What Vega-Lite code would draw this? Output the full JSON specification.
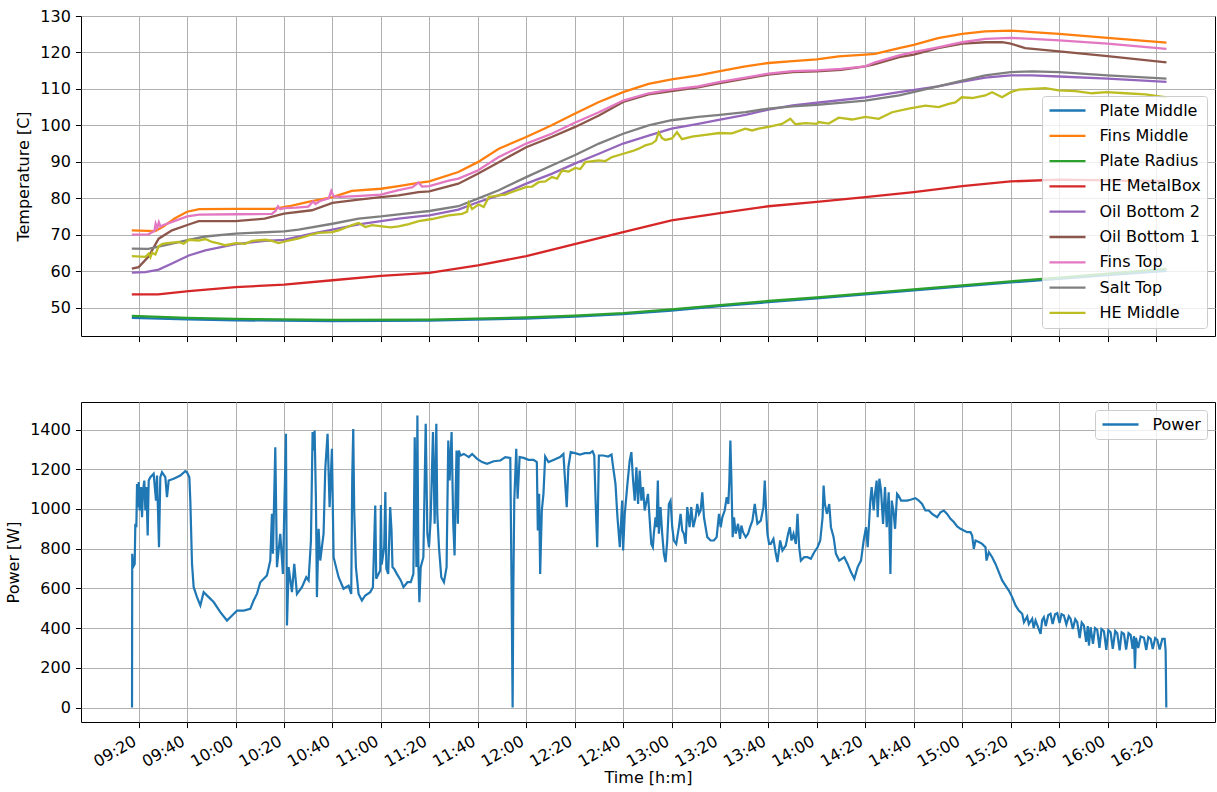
{
  "$schema": "https://vega.github.io/schema/vega-lite/v6.json",
  "padding": {"left": 5, "top": 7, "right": 0, "bottom": 0},
  "spacing": 66,
  "bounds": "flush",
  "config": {
    "font": "DejaVu Sans",
    "view": {"stroke": "#000000", "strokeWidth": 1},
    "axis": {
      "domain": false,
      "grid": true,
      "gridColor": "#b0b0b0",
      "gridWidth": 1,
      "tickColor": "#000000",
      "tickSize": 5.6,
      "tickWidth": 1,
      "labelFont": "DejaVu Sans",
      "labelFontSize": 16,
      "labelColor": "#000000",
      "labelPadding": 5,
      "labelOverlap": false,
      "labelFlush": false,
      "titleFont": "DejaVu Sans",
      "titleFontSize": 16,
      "titleFontWeight": "normal",
      "titleColor": "#000000",
      "titlePadding": 8
    },
    "legend": {
      "labelFont": "DejaVu Sans",
      "labelFontSize": 16,
      "labelColor": "#000000",
      "symbolType": "stroke",
      "symbolSize": 1296,
      "symbolStrokeWidth": 2.3,
      "labelOffset": 12.5,
      "padding": 6,
      "rowPadding": 8.3,
      "clipHeight": 17,
      "fillColor": "rgba(255,255,255,0.8)",
      "strokeColor": "#cccccc",
      "cornerRadius": 3,
      "offset": 8
    }
  },
  "resolve": {"scale": {"color": "independent", "y": "independent"}},
  "vconcat": [
    {
      "width": 1134,
      "height": 320,
      "data": {
        "format": {"parse": {"time": "date:'%H:%M:%S'"}},
        "values": [
          {"time": "09:17:10", "sensor": "Plate Middle", "temp": 47.2},
          {"time": "09:40:00", "sensor": "Plate Middle", "temp": 46.8},
          {"time": "10:00:00", "sensor": "Plate Middle", "temp": 46.5},
          {"time": "10:40:00", "sensor": "Plate Middle", "temp": 46.3},
          {"time": "11:20:00", "sensor": "Plate Middle", "temp": 46.4},
          {"time": "12:00:00", "sensor": "Plate Middle", "temp": 47.0},
          {"time": "12:20:00", "sensor": "Plate Middle", "temp": 47.5},
          {"time": "12:40:00", "sensor": "Plate Middle", "temp": 48.2},
          {"time": "13:00:00", "sensor": "Plate Middle", "temp": 49.2},
          {"time": "13:20:00", "sensor": "Plate Middle", "temp": 50.4},
          {"time": "13:40:00", "sensor": "Plate Middle", "temp": 51.5},
          {"time": "14:00:00", "sensor": "Plate Middle", "temp": 52.5},
          {"time": "14:20:00", "sensor": "Plate Middle", "temp": 53.6},
          {"time": "14:40:00", "sensor": "Plate Middle", "temp": 54.7},
          {"time": "15:00:00", "sensor": "Plate Middle", "temp": 55.8},
          {"time": "15:20:00", "sensor": "Plate Middle", "temp": 56.9},
          {"time": "15:40:00", "sensor": "Plate Middle", "temp": 57.9},
          {"time": "16:00:00", "sensor": "Plate Middle", "temp": 58.9},
          {"time": "16:24:20", "sensor": "Plate Middle", "temp": 60.1},

          {"time": "09:17:10", "sensor": "Fins Middle", "temp": 71.2},
          {"time": "09:26:50", "sensor": "Fins Middle", "temp": 71.0},
          {"time": "09:30:00", "sensor": "Fins Middle", "temp": 72.2},
          {"time": "09:35:00", "sensor": "Fins Middle", "temp": 74.5},
          {"time": "09:40:00", "sensor": "Fins Middle", "temp": 76.3},
          {"time": "09:45:00", "sensor": "Fins Middle", "temp": 77.0},
          {"time": "10:00:00", "sensor": "Fins Middle", "temp": 77.1},
          {"time": "10:16:00", "sensor": "Fins Middle", "temp": 77.1},
          {"time": "10:22:00", "sensor": "Fins Middle", "temp": 77.8},
          {"time": "10:30:00", "sensor": "Fins Middle", "temp": 79.0},
          {"time": "10:40:00", "sensor": "Fins Middle", "temp": 80.3},
          {"time": "10:48:00", "sensor": "Fins Middle", "temp": 82.0},
          {"time": "11:00:00", "sensor": "Fins Middle", "temp": 82.6},
          {"time": "11:07:20", "sensor": "Fins Middle", "temp": 83.3},
          {"time": "11:15:30", "sensor": "Fins Middle", "temp": 84.2},
          {"time": "11:20:00", "sensor": "Fins Middle", "temp": 84.6},
          {"time": "11:32:00", "sensor": "Fins Middle", "temp": 87.2},
          {"time": "11:40:00", "sensor": "Fins Middle", "temp": 89.9},
          {"time": "11:48:40", "sensor": "Fins Middle", "temp": 93.6},
          {"time": "12:00:00", "sensor": "Fins Middle", "temp": 96.8},
          {"time": "12:10:30", "sensor": "Fins Middle", "temp": 100.0},
          {"time": "12:20:00", "sensor": "Fins Middle", "temp": 103.2},
          {"time": "12:30:00", "sensor": "Fins Middle", "temp": 106.4},
          {"time": "12:40:00", "sensor": "Fins Middle", "temp": 109.1},
          {"time": "12:50:30", "sensor": "Fins Middle", "temp": 111.4},
          {"time": "13:00:00", "sensor": "Fins Middle", "temp": 112.6},
          {"time": "13:11:00", "sensor": "Fins Middle", "temp": 113.7},
          {"time": "13:20:00", "sensor": "Fins Middle", "temp": 114.9},
          {"time": "13:30:30", "sensor": "Fins Middle", "temp": 116.2},
          {"time": "13:40:00", "sensor": "Fins Middle", "temp": 117.1},
          {"time": "13:50:00", "sensor": "Fins Middle", "temp": 117.6},
          {"time": "14:00:00", "sensor": "Fins Middle", "temp": 118.1},
          {"time": "14:09:00", "sensor": "Fins Middle", "temp": 118.9},
          {"time": "14:20:00", "sensor": "Fins Middle", "temp": 119.4},
          {"time": "14:24:00", "sensor": "Fins Middle", "temp": 119.6},
          {"time": "14:34:00", "sensor": "Fins Middle", "temp": 121.2},
          {"time": "14:40:00", "sensor": "Fins Middle", "temp": 122.1},
          {"time": "14:50:00", "sensor": "Fins Middle", "temp": 123.9},
          {"time": "15:00:00", "sensor": "Fins Middle", "temp": 125.1},
          {"time": "15:09:30", "sensor": "Fins Middle", "temp": 125.8},
          {"time": "15:20:00", "sensor": "Fins Middle", "temp": 126.0},
          {"time": "15:28:50", "sensor": "Fins Middle", "temp": 125.6},
          {"time": "15:40:00", "sensor": "Fins Middle", "temp": 125.1},
          {"time": "16:00:00", "sensor": "Fins Middle", "temp": 124.0},
          {"time": "16:24:20", "sensor": "Fins Middle", "temp": 122.7},

          {"time": "09:17:10", "sensor": "Plate Radius", "temp": 47.7},
          {"time": "09:40:00", "sensor": "Plate Radius", "temp": 47.2},
          {"time": "10:00:00", "sensor": "Plate Radius", "temp": 46.9},
          {"time": "10:40:00", "sensor": "Plate Radius", "temp": 46.6},
          {"time": "11:20:00", "sensor": "Plate Radius", "temp": 46.7},
          {"time": "12:00:00", "sensor": "Plate Radius", "temp": 47.3},
          {"time": "12:20:00", "sensor": "Plate Radius", "temp": 47.8},
          {"time": "12:40:00", "sensor": "Plate Radius", "temp": 48.5},
          {"time": "13:00:00", "sensor": "Plate Radius", "temp": 49.5},
          {"time": "13:20:00", "sensor": "Plate Radius", "temp": 50.7},
          {"time": "13:40:00", "sensor": "Plate Radius", "temp": 51.8},
          {"time": "14:00:00", "sensor": "Plate Radius", "temp": 52.8},
          {"time": "14:20:00", "sensor": "Plate Radius", "temp": 53.9},
          {"time": "14:40:00", "sensor": "Plate Radius", "temp": 55.0},
          {"time": "15:00:00", "sensor": "Plate Radius", "temp": 56.1},
          {"time": "15:20:00", "sensor": "Plate Radius", "temp": 57.2},
          {"time": "15:40:00", "sensor": "Plate Radius", "temp": 58.2},
          {"time": "16:00:00", "sensor": "Plate Radius", "temp": 59.3},
          {"time": "16:24:20", "sensor": "Plate Radius", "temp": 60.6},

          {"time": "09:17:10", "sensor": "HE MetalBox", "temp": 53.6},
          {"time": "09:28:00", "sensor": "HE MetalBox", "temp": 53.6},
          {"time": "09:40:40", "sensor": "HE MetalBox", "temp": 54.5},
          {"time": "10:00:00", "sensor": "HE MetalBox", "temp": 55.6},
          {"time": "10:20:00", "sensor": "HE MetalBox", "temp": 56.3},
          {"time": "10:40:00", "sensor": "HE MetalBox", "temp": 57.5},
          {"time": "11:00:00", "sensor": "HE MetalBox", "temp": 58.7},
          {"time": "11:20:00", "sensor": "HE MetalBox", "temp": 59.5},
          {"time": "11:40:00", "sensor": "HE MetalBox", "temp": 61.6},
          {"time": "12:00:00", "sensor": "HE MetalBox", "temp": 64.1},
          {"time": "12:20:00", "sensor": "HE MetalBox", "temp": 67.4},
          {"time": "12:40:00", "sensor": "HE MetalBox", "temp": 70.7},
          {"time": "13:00:00", "sensor": "HE MetalBox", "temp": 73.9},
          {"time": "13:20:00", "sensor": "HE MetalBox", "temp": 75.9},
          {"time": "13:40:00", "sensor": "HE MetalBox", "temp": 77.8},
          {"time": "14:00:00", "sensor": "HE MetalBox", "temp": 79.0},
          {"time": "14:20:00", "sensor": "HE MetalBox", "temp": 80.3},
          {"time": "14:40:00", "sensor": "HE MetalBox", "temp": 81.7},
          {"time": "15:00:00", "sensor": "HE MetalBox", "temp": 83.3},
          {"time": "15:20:00", "sensor": "HE MetalBox", "temp": 84.6},
          {"time": "15:40:00", "sensor": "HE MetalBox", "temp": 85.1},
          {"time": "16:00:00", "sensor": "HE MetalBox", "temp": 84.9},
          {"time": "16:24:20", "sensor": "HE MetalBox", "temp": 84.7},

          {"time": "09:17:10", "sensor": "Oil Bottom 2", "temp": 59.6},
          {"time": "09:22:45", "sensor": "Oil Bottom 2", "temp": 59.7},
          {"time": "09:28:15", "sensor": "Oil Bottom 2", "temp": 60.4},
          {"time": "09:33:45", "sensor": "Oil Bottom 2", "temp": 62.1},
          {"time": "09:40:40", "sensor": "Oil Bottom 2", "temp": 64.3},
          {"time": "09:47:30", "sensor": "Oil Bottom 2", "temp": 65.7},
          {"time": "10:00:00", "sensor": "Oil Bottom 2", "temp": 67.4},
          {"time": "10:12:00", "sensor": "Oil Bottom 2", "temp": 68.3},
          {"time": "10:20:00", "sensor": "Oil Bottom 2", "temp": 68.6},
          {"time": "10:31:30", "sensor": "Oil Bottom 2", "temp": 70.3},
          {"time": "10:40:00", "sensor": "Oil Bottom 2", "temp": 71.4},
          {"time": "10:50:50", "sensor": "Oil Bottom 2", "temp": 72.8},
          {"time": "11:00:00", "sensor": "Oil Bottom 2", "temp": 73.7},
          {"time": "11:07:20", "sensor": "Oil Bottom 2", "temp": 74.4},
          {"time": "11:15:30", "sensor": "Oil Bottom 2", "temp": 75.0},
          {"time": "11:20:00", "sensor": "Oil Bottom 2", "temp": 75.3},
          {"time": "11:32:00", "sensor": "Oil Bottom 2", "temp": 76.9},
          {"time": "11:40:00", "sensor": "Oil Bottom 2", "temp": 78.9},
          {"time": "11:48:40", "sensor": "Oil Bottom 2", "temp": 80.8},
          {"time": "12:00:00", "sensor": "Oil Bottom 2", "temp": 84.0},
          {"time": "12:10:30", "sensor": "Oil Bottom 2", "temp": 86.7},
          {"time": "12:20:00", "sensor": "Oil Bottom 2", "temp": 89.5},
          {"time": "12:30:00", "sensor": "Oil Bottom 2", "temp": 92.2},
          {"time": "12:40:00", "sensor": "Oil Bottom 2", "temp": 95.0},
          {"time": "12:50:30", "sensor": "Oil Bottom 2", "temp": 97.2},
          {"time": "13:00:00", "sensor": "Oil Bottom 2", "temp": 99.1},
          {"time": "13:11:00", "sensor": "Oil Bottom 2", "temp": 100.4},
          {"time": "13:20:00", "sensor": "Oil Bottom 2", "temp": 101.6},
          {"time": "13:30:30", "sensor": "Oil Bottom 2", "temp": 102.9},
          {"time": "13:40:00", "sensor": "Oil Bottom 2", "temp": 104.3},
          {"time": "13:50:00", "sensor": "Oil Bottom 2", "temp": 105.5},
          {"time": "14:00:00", "sensor": "Oil Bottom 2", "temp": 106.2},
          {"time": "14:20:00", "sensor": "Oil Bottom 2", "temp": 107.7},
          {"time": "14:34:00", "sensor": "Oil Bottom 2", "temp": 109.1},
          {"time": "14:50:00", "sensor": "Oil Bottom 2", "temp": 110.7},
          {"time": "15:00:00", "sensor": "Oil Bottom 2", "temp": 112.0},
          {"time": "15:09:30", "sensor": "Oil Bottom 2", "temp": 113.1},
          {"time": "15:20:00", "sensor": "Oil Bottom 2", "temp": 113.7},
          {"time": "15:29:00", "sensor": "Oil Bottom 2", "temp": 113.7},
          {"time": "15:40:00", "sensor": "Oil Bottom 2", "temp": 113.4},
          {"time": "16:00:00", "sensor": "Oil Bottom 2", "temp": 112.8},
          {"time": "16:24:20", "sensor": "Oil Bottom 2", "temp": 111.9},

          {"time": "09:17:10", "sensor": "Oil Bottom 1", "temp": 60.7},
          {"time": "09:20:00", "sensor": "Oil Bottom 1", "temp": 61.1},
          {"time": "09:24:00", "sensor": "Oil Bottom 1", "temp": 63.9},
          {"time": "09:28:15", "sensor": "Oil Bottom 1", "temp": 68.9},
          {"time": "09:33:45", "sensor": "Oil Bottom 1", "temp": 71.2},
          {"time": "09:40:40", "sensor": "Oil Bottom 1", "temp": 72.8},
          {"time": "09:44:45", "sensor": "Oil Bottom 1", "temp": 73.7},
          {"time": "10:00:00", "sensor": "Oil Bottom 1", "temp": 73.7},
          {"time": "10:12:00", "sensor": "Oil Bottom 1", "temp": 74.4},
          {"time": "10:20:00", "sensor": "Oil Bottom 1", "temp": 75.8},
          {"time": "10:31:30", "sensor": "Oil Bottom 1", "temp": 76.7},
          {"time": "10:40:00", "sensor": "Oil Bottom 1", "temp": 78.7},
          {"time": "10:50:50", "sensor": "Oil Bottom 1", "temp": 79.6},
          {"time": "11:00:00", "sensor": "Oil Bottom 1", "temp": 80.3},
          {"time": "11:07:20", "sensor": "Oil Bottom 1", "temp": 80.8},
          {"time": "11:15:30", "sensor": "Oil Bottom 1", "temp": 81.7},
          {"time": "11:20:00", "sensor": "Oil Bottom 1", "temp": 81.9},
          {"time": "11:32:00", "sensor": "Oil Bottom 1", "temp": 84.0},
          {"time": "11:40:00", "sensor": "Oil Bottom 1", "temp": 86.7},
          {"time": "11:48:40", "sensor": "Oil Bottom 1", "temp": 89.9},
          {"time": "12:00:00", "sensor": "Oil Bottom 1", "temp": 94.0},
          {"time": "12:10:30", "sensor": "Oil Bottom 1", "temp": 96.8},
          {"time": "12:20:00", "sensor": "Oil Bottom 1", "temp": 99.5},
          {"time": "12:30:00", "sensor": "Oil Bottom 1", "temp": 102.7},
          {"time": "12:40:00", "sensor": "Oil Bottom 1", "temp": 106.4},
          {"time": "12:50:30", "sensor": "Oil Bottom 1", "temp": 108.5},
          {"time": "13:00:00", "sensor": "Oil Bottom 1", "temp": 109.4},
          {"time": "13:11:00", "sensor": "Oil Bottom 1", "temp": 110.4},
          {"time": "13:20:00", "sensor": "Oil Bottom 1", "temp": 111.6},
          {"time": "13:30:30", "sensor": "Oil Bottom 1", "temp": 112.8},
          {"time": "13:40:00", "sensor": "Oil Bottom 1", "temp": 113.9},
          {"time": "13:50:00", "sensor": "Oil Bottom 1", "temp": 114.6},
          {"time": "14:00:00", "sensor": "Oil Bottom 1", "temp": 114.8},
          {"time": "14:10:00", "sensor": "Oil Bottom 1", "temp": 115.2},
          {"time": "14:20:00", "sensor": "Oil Bottom 1", "temp": 116.2},
          {"time": "14:24:00", "sensor": "Oil Bottom 1", "temp": 116.8},
          {"time": "14:34:00", "sensor": "Oil Bottom 1", "temp": 118.7},
          {"time": "14:40:00", "sensor": "Oil Bottom 1", "temp": 119.4},
          {"time": "14:50:00", "sensor": "Oil Bottom 1", "temp": 121.2},
          {"time": "15:00:00", "sensor": "Oil Bottom 1", "temp": 122.4},
          {"time": "15:09:30", "sensor": "Oil Bottom 1", "temp": 122.8},
          {"time": "15:16:30", "sensor": "Oil Bottom 1", "temp": 122.8},
          {"time": "15:20:00", "sensor": "Oil Bottom 1", "temp": 122.4},
          {"time": "15:26:00", "sensor": "Oil Bottom 1", "temp": 121.2},
          {"time": "15:40:00", "sensor": "Oil Bottom 1", "temp": 120.3},
          {"time": "16:00:00", "sensor": "Oil Bottom 1", "temp": 119.0},
          {"time": "16:24:20", "sensor": "Oil Bottom 1", "temp": 117.3},

          {"time": "09:17:10", "sensor": "Fins Top", "temp": 70.0},
          {"time": "09:24:00", "sensor": "Fins Top", "temp": 70.1},
          {"time": "09:26:30", "sensor": "Fins Top", "temp": 71.0},
          {"time": "09:27:00", "sensor": "Fins Top", "temp": 73.0},
          {"time": "09:27:40", "sensor": "Fins Top", "temp": 71.8},
          {"time": "09:28:20", "sensor": "Fins Top", "temp": 73.4},
          {"time": "09:29:00", "sensor": "Fins Top", "temp": 72.2},
          {"time": "09:30:00", "sensor": "Fins Top", "temp": 72.6},
          {"time": "09:35:00", "sensor": "Fins Top", "temp": 73.8},
          {"time": "09:40:00", "sensor": "Fins Top", "temp": 75.0},
          {"time": "09:45:00", "sensor": "Fins Top", "temp": 75.5},
          {"time": "10:00:00", "sensor": "Fins Top", "temp": 75.6},
          {"time": "10:15:00", "sensor": "Fins Top", "temp": 75.7},
          {"time": "10:16:30", "sensor": "Fins Top", "temp": 76.5},
          {"time": "10:17:30", "sensor": "Fins Top", "temp": 77.8},
          {"time": "10:18:30", "sensor": "Fins Top", "temp": 77.0},
          {"time": "10:20:00", "sensor": "Fins Top", "temp": 77.3},
          {"time": "10:25:00", "sensor": "Fins Top", "temp": 77.4},
          {"time": "10:30:00", "sensor": "Fins Top", "temp": 77.7},
          {"time": "10:32:00", "sensor": "Fins Top", "temp": 79.1},
          {"time": "10:33:00", "sensor": "Fins Top", "temp": 78.4},
          {"time": "10:35:00", "sensor": "Fins Top", "temp": 79.3},
          {"time": "10:38:30", "sensor": "Fins Top", "temp": 80.0},
          {"time": "10:39:30", "sensor": "Fins Top", "temp": 82.0},
          {"time": "10:40:30", "sensor": "Fins Top", "temp": 80.5},
          {"time": "10:43:00", "sensor": "Fins Top", "temp": 80.4},
          {"time": "10:50:00", "sensor": "Fins Top", "temp": 80.6},
          {"time": "11:00:00", "sensor": "Fins Top", "temp": 81.0},
          {"time": "11:07:20", "sensor": "Fins Top", "temp": 82.2},
          {"time": "11:13:00", "sensor": "Fins Top", "temp": 83.0},
          {"time": "11:15:30", "sensor": "Fins Top", "temp": 84.3},
          {"time": "11:17:00", "sensor": "Fins Top", "temp": 83.2},
          {"time": "11:20:00", "sensor": "Fins Top", "temp": 83.3},
          {"time": "11:28:00", "sensor": "Fins Top", "temp": 84.8},
          {"time": "11:32:00", "sensor": "Fins Top", "temp": 85.4},
          {"time": "11:40:00", "sensor": "Fins Top", "temp": 87.6},
          {"time": "11:48:40", "sensor": "Fins Top", "temp": 91.3},
          {"time": "12:00:00", "sensor": "Fins Top", "temp": 95.0},
          {"time": "12:10:30", "sensor": "Fins Top", "temp": 97.7},
          {"time": "12:20:00", "sensor": "Fins Top", "temp": 100.7},
          {"time": "12:30:00", "sensor": "Fins Top", "temp": 103.6},
          {"time": "12:40:00", "sensor": "Fins Top", "temp": 106.8},
          {"time": "12:50:30", "sensor": "Fins Top", "temp": 108.8},
          {"time": "13:00:00", "sensor": "Fins Top", "temp": 109.8},
          {"time": "13:11:00", "sensor": "Fins Top", "temp": 110.7},
          {"time": "13:20:00", "sensor": "Fins Top", "temp": 111.9},
          {"time": "13:30:30", "sensor": "Fins Top", "temp": 113.1},
          {"time": "13:40:00", "sensor": "Fins Top", "temp": 114.2},
          {"time": "13:50:00", "sensor": "Fins Top", "temp": 114.9},
          {"time": "14:00:00", "sensor": "Fins Top", "temp": 115.1},
          {"time": "14:10:00", "sensor": "Fins Top", "temp": 115.5},
          {"time": "14:20:00", "sensor": "Fins Top", "temp": 116.2},
          {"time": "14:24:00", "sensor": "Fins Top", "temp": 117.3},
          {"time": "14:34:00", "sensor": "Fins Top", "temp": 119.2},
          {"time": "14:40:00", "sensor": "Fins Top", "temp": 120.1},
          {"time": "14:50:00", "sensor": "Fins Top", "temp": 121.4},
          {"time": "15:00:00", "sensor": "Fins Top", "temp": 122.8},
          {"time": "15:09:30", "sensor": "Fins Top", "temp": 123.7},
          {"time": "15:20:00", "sensor": "Fins Top", "temp": 124.0},
          {"time": "15:28:50", "sensor": "Fins Top", "temp": 123.7},
          {"time": "15:40:00", "sensor": "Fins Top", "temp": 123.3},
          {"time": "16:00:00", "sensor": "Fins Top", "temp": 122.4},
          {"time": "16:24:20", "sensor": "Fins Top", "temp": 121.0},

          {"time": "09:17:10", "sensor": "Salt Top", "temp": 66.2},
          {"time": "09:24:00", "sensor": "Salt Top", "temp": 66.1},
          {"time": "09:31:00", "sensor": "Salt Top", "temp": 67.1},
          {"time": "09:40:40", "sensor": "Salt Top", "temp": 68.6},
          {"time": "09:47:30", "sensor": "Salt Top", "temp": 69.5},
          {"time": "10:00:00", "sensor": "Salt Top", "temp": 70.3},
          {"time": "10:20:00", "sensor": "Salt Top", "temp": 70.9},
          {"time": "10:26:00", "sensor": "Salt Top", "temp": 71.4},
          {"time": "10:40:00", "sensor": "Salt Top", "temp": 73.0},
          {"time": "10:50:50", "sensor": "Salt Top", "temp": 74.4},
          {"time": "11:00:00", "sensor": "Salt Top", "temp": 75.0},
          {"time": "11:07:20", "sensor": "Salt Top", "temp": 75.6},
          {"time": "11:20:00", "sensor": "Salt Top", "temp": 76.5},
          {"time": "11:32:00", "sensor": "Salt Top", "temp": 77.8},
          {"time": "11:40:00", "sensor": "Salt Top", "temp": 79.9},
          {"time": "11:48:40", "sensor": "Salt Top", "temp": 82.2},
          {"time": "12:00:00", "sensor": "Salt Top", "temp": 85.8},
          {"time": "12:10:30", "sensor": "Salt Top", "temp": 89.0},
          {"time": "12:20:00", "sensor": "Salt Top", "temp": 91.8},
          {"time": "12:30:00", "sensor": "Salt Top", "temp": 95.0},
          {"time": "12:40:00", "sensor": "Salt Top", "temp": 97.7},
          {"time": "12:50:30", "sensor": "Salt Top", "temp": 100.0},
          {"time": "13:00:00", "sensor": "Salt Top", "temp": 101.4},
          {"time": "13:11:00", "sensor": "Salt Top", "temp": 102.3},
          {"time": "13:20:00", "sensor": "Salt Top", "temp": 102.9},
          {"time": "13:30:30", "sensor": "Salt Top", "temp": 103.6},
          {"time": "13:40:00", "sensor": "Salt Top", "temp": 104.6},
          {"time": "13:50:00", "sensor": "Salt Top", "temp": 105.2},
          {"time": "14:00:00", "sensor": "Salt Top", "temp": 105.6},
          {"time": "14:20:00", "sensor": "Salt Top", "temp": 106.8},
          {"time": "14:34:00", "sensor": "Salt Top", "temp": 108.2},
          {"time": "14:50:00", "sensor": "Salt Top", "temp": 110.7},
          {"time": "15:00:00", "sensor": "Salt Top", "temp": 112.3},
          {"time": "15:09:30", "sensor": "Salt Top", "temp": 113.7},
          {"time": "15:20:00", "sensor": "Salt Top", "temp": 114.6},
          {"time": "15:29:00", "sensor": "Salt Top", "temp": 114.8},
          {"time": "15:40:00", "sensor": "Salt Top", "temp": 114.6},
          {"time": "16:00:00", "sensor": "Salt Top", "temp": 113.7},
          {"time": "16:24:20", "sensor": "Salt Top", "temp": 112.8},

          {"time": "09:17:10", "sensor": "HE Middle", "temp": 64.1},
          {"time": "09:22:45", "sensor": "HE Middle", "temp": 63.9},
          {"time": "09:24:08", "sensor": "HE Middle", "temp": 64.8},
          {"time": "09:24:50", "sensor": "HE Middle", "temp": 63.8},
          {"time": "09:25:30", "sensor": "HE Middle", "temp": 65.0},
          {"time": "09:26:53", "sensor": "HE Middle", "temp": 64.6},
          {"time": "09:28:15", "sensor": "HE Middle", "temp": 66.8},
          {"time": "09:29:38", "sensor": "HE Middle", "temp": 67.4},
          {"time": "09:31:00", "sensor": "HE Middle", "temp": 67.6},
          {"time": "09:33:45", "sensor": "HE Middle", "temp": 67.8},
          {"time": "09:36:30", "sensor": "HE Middle", "temp": 68.0},
          {"time": "09:38:35", "sensor": "HE Middle", "temp": 67.5},
          {"time": "09:40:40", "sensor": "HE Middle", "temp": 68.6},
          {"time": "09:44:46", "sensor": "HE Middle", "temp": 68.4},
          {"time": "09:47:32", "sensor": "HE Middle", "temp": 68.8},
          {"time": "09:50:17", "sensor": "HE Middle", "temp": 68.0},
          {"time": "09:53:00", "sensor": "HE Middle", "temp": 67.6},
          {"time": "09:55:47", "sensor": "HE Middle", "temp": 67.1},
          {"time": "10:00:10", "sensor": "HE Middle", "temp": 67.7},
          {"time": "10:04:00", "sensor": "HE Middle", "temp": 67.5},
          {"time": "10:06:47", "sensor": "HE Middle", "temp": 68.3},
          {"time": "10:12:17", "sensor": "HE Middle", "temp": 68.6},
          {"time": "10:15:00", "sensor": "HE Middle", "temp": 68.3},
          {"time": "10:17:47", "sensor": "HE Middle", "temp": 67.7},
          {"time": "10:21:56", "sensor": "HE Middle", "temp": 68.4},
          {"time": "10:26:04", "sensor": "HE Middle", "temp": 69.0},
          {"time": "10:28:49", "sensor": "HE Middle", "temp": 69.5},
          {"time": "10:31:34", "sensor": "HE Middle", "temp": 70.1},
          {"time": "10:34:19", "sensor": "HE Middle", "temp": 70.5},
          {"time": "10:39:49", "sensor": "HE Middle", "temp": 70.7},
          {"time": "10:42:34", "sensor": "HE Middle", "temp": 71.2},
          {"time": "10:45:20", "sensor": "HE Middle", "temp": 71.9},
          {"time": "10:48:05", "sensor": "HE Middle", "temp": 72.6},
          {"time": "10:50:50", "sensor": "HE Middle", "temp": 73.2},
          {"time": "10:53:36", "sensor": "HE Middle", "temp": 72.1},
          {"time": "10:56:20", "sensor": "HE Middle", "temp": 72.6},
          {"time": "11:00:29", "sensor": "HE Middle", "temp": 72.3},
          {"time": "11:04:00", "sensor": "HE Middle", "temp": 72.0},
          {"time": "11:07:20", "sensor": "HE Middle", "temp": 72.3},
          {"time": "11:11:30", "sensor": "HE Middle", "temp": 72.9},
          {"time": "11:15:36", "sensor": "HE Middle", "temp": 73.7},
          {"time": "11:21:06", "sensor": "HE Middle", "temp": 74.3},
          {"time": "11:28:00", "sensor": "HE Middle", "temp": 75.3},
          {"time": "11:33:30", "sensor": "HE Middle", "temp": 75.7},
          {"time": "11:35:35", "sensor": "HE Middle", "temp": 76.3},
          {"time": "11:36:15", "sensor": "HE Middle", "temp": 78.7},
          {"time": "11:37:40", "sensor": "HE Middle", "temp": 77.0},
          {"time": "11:40:23", "sensor": "HE Middle", "temp": 78.3},
          {"time": "11:42:27", "sensor": "HE Middle", "temp": 77.6},
          {"time": "11:44:31", "sensor": "HE Middle", "temp": 80.3},
          {"time": "11:48:38", "sensor": "HE Middle", "temp": 80.8},
          {"time": "11:51:24", "sensor": "HE Middle", "temp": 81.0},
          {"time": "11:54:08", "sensor": "HE Middle", "temp": 81.7},
          {"time": "12:00:05", "sensor": "HE Middle", "temp": 83.1},
          {"time": "12:02:25", "sensor": "HE Middle", "temp": 83.2},
          {"time": "12:05:08", "sensor": "HE Middle", "temp": 84.4},
          {"time": "12:07:53", "sensor": "HE Middle", "temp": 84.6},
          {"time": "12:10:38", "sensor": "HE Middle", "temp": 85.8},
          {"time": "12:12:42", "sensor": "HE Middle", "temp": 85.4},
          {"time": "12:14:46", "sensor": "HE Middle", "temp": 87.6},
          {"time": "12:17:30", "sensor": "HE Middle", "temp": 87.3},
          {"time": "12:20:17", "sensor": "HE Middle", "temp": 88.3},
          {"time": "12:22:20", "sensor": "HE Middle", "temp": 88.0},
          {"time": "12:24:25", "sensor": "HE Middle", "temp": 89.9},
          {"time": "12:29:55", "sensor": "HE Middle", "temp": 90.4},
          {"time": "12:32:40", "sensor": "HE Middle", "temp": 90.2},
          {"time": "12:35:25", "sensor": "HE Middle", "temp": 91.3},
          {"time": "12:40:06", "sensor": "HE Middle", "temp": 92.2},
          {"time": "12:43:41", "sensor": "HE Middle", "temp": 92.9},
          {"time": "12:46:25", "sensor": "HE Middle", "temp": 93.6},
          {"time": "12:49:10", "sensor": "HE Middle", "temp": 94.5},
          {"time": "12:51:55", "sensor": "HE Middle", "temp": 95.0},
          {"time": "12:53:34", "sensor": "HE Middle", "temp": 95.8},
          {"time": "12:54:40", "sensor": "HE Middle", "temp": 98.1},
          {"time": "12:56:03", "sensor": "HE Middle", "temp": 96.5},
          {"time": "12:57:26", "sensor": "HE Middle", "temp": 96.0},
          {"time": "13:00:11", "sensor": "HE Middle", "temp": 96.4},
          {"time": "13:02:15", "sensor": "HE Middle", "temp": 98.1},
          {"time": "13:04:18", "sensor": "HE Middle", "temp": 96.2},
          {"time": "13:08:26", "sensor": "HE Middle", "temp": 96.9},
          {"time": "13:13:57", "sensor": "HE Middle", "temp": 97.4},
          {"time": "13:19:44", "sensor": "HE Middle", "temp": 97.9},
          {"time": "13:24:57", "sensor": "HE Middle", "temp": 97.8},
          {"time": "13:30:28", "sensor": "HE Middle", "temp": 99.1},
          {"time": "13:33:13", "sensor": "HE Middle", "temp": 98.6},
          {"time": "13:35:58", "sensor": "HE Middle", "temp": 99.1},
          {"time": "13:41:28", "sensor": "HE Middle", "temp": 99.8},
          {"time": "13:45:36", "sensor": "HE Middle", "temp": 100.4},
          {"time": "13:49:03", "sensor": "HE Middle", "temp": 101.8},
          {"time": "13:51:07", "sensor": "HE Middle", "temp": 100.3},
          {"time": "13:55:15", "sensor": "HE Middle", "temp": 100.6},
          {"time": "14:00:04", "sensor": "HE Middle", "temp": 100.4},
          {"time": "14:00:45", "sensor": "HE Middle", "temp": 100.9},
          {"time": "14:04:53", "sensor": "HE Middle", "temp": 100.5},
          {"time": "14:09:01", "sensor": "HE Middle", "temp": 102.1},
          {"time": "14:14:32", "sensor": "HE Middle", "temp": 101.6},
          {"time": "14:20:02", "sensor": "HE Middle", "temp": 102.3},
          {"time": "14:25:32", "sensor": "HE Middle", "temp": 101.8},
          {"time": "14:31:02", "sensor": "HE Middle", "temp": 103.6},
          {"time": "14:37:55", "sensor": "HE Middle", "temp": 104.6},
          {"time": "14:44:48", "sensor": "HE Middle", "temp": 105.4},
          {"time": "14:50:18", "sensor": "HE Middle", "temp": 105.0},
          {"time": "14:54:26", "sensor": "HE Middle", "temp": 105.9},
          {"time": "14:57:11", "sensor": "HE Middle", "temp": 106.3},
          {"time": "14:59:48", "sensor": "HE Middle", "temp": 107.7},
          {"time": "15:04:04", "sensor": "HE Middle", "temp": 107.5},
          {"time": "15:09:34", "sensor": "HE Middle", "temp": 108.2},
          {"time": "15:12:20", "sensor": "HE Middle", "temp": 109.1},
          {"time": "15:16:27", "sensor": "HE Middle", "temp": 107.7},
          {"time": "15:20:02", "sensor": "HE Middle", "temp": 109.1},
          {"time": "15:23:20", "sensor": "HE Middle", "temp": 109.8},
          {"time": "15:28:50", "sensor": "HE Middle", "temp": 110.0},
          {"time": "15:34:21", "sensor": "HE Middle", "temp": 110.2},
          {"time": "15:39:51", "sensor": "HE Middle", "temp": 109.6},
          {"time": "15:46:44", "sensor": "HE Middle", "temp": 109.4},
          {"time": "15:53:36", "sensor": "HE Middle", "temp": 108.8},
          {"time": "15:59:40", "sensor": "HE Middle", "temp": 109.1},
          {"time": "16:07:23", "sensor": "HE Middle", "temp": 108.8},
          {"time": "16:15:38", "sensor": "HE Middle", "temp": 108.5},
          {"time": "16:24:20", "sensor": "HE Middle", "temp": 107.7}
        ]
      },
      "mark": {"type": "line", "strokeWidth": 2.3},
      "encoding": {
        "x": {
          "field": "time",
          "type": "temporal",
          "scale": {"domain": [
            {"year": 1900, "month": 1, "date": 1, "hours": 8, "minutes": 56, "seconds": 11},
            {"year": 1900, "month": 1, "date": 1, "hours": 16, "minutes": 44, "seconds": 22}
          ]},
          "axis": {
            "title": null,
            "labels": false,
            "format": "%H:%M",
            "values": [
              {"year": 1900, "month": 1, "date": 1, "hours": 9, "minutes": 20},
              {"year": 1900, "month": 1, "date": 1, "hours": 9, "minutes": 40},
              {"year": 1900, "month": 1, "date": 1, "hours": 10, "minutes": 0},
              {"year": 1900, "month": 1, "date": 1, "hours": 10, "minutes": 20},
              {"year": 1900, "month": 1, "date": 1, "hours": 10, "minutes": 40},
              {"year": 1900, "month": 1, "date": 1, "hours": 11, "minutes": 0},
              {"year": 1900, "month": 1, "date": 1, "hours": 11, "minutes": 20},
              {"year": 1900, "month": 1, "date": 1, "hours": 11, "minutes": 40},
              {"year": 1900, "month": 1, "date": 1, "hours": 12, "minutes": 0},
              {"year": 1900, "month": 1, "date": 1, "hours": 12, "minutes": 20},
              {"year": 1900, "month": 1, "date": 1, "hours": 12, "minutes": 40},
              {"year": 1900, "month": 1, "date": 1, "hours": 13, "minutes": 0},
              {"year": 1900, "month": 1, "date": 1, "hours": 13, "minutes": 20},
              {"year": 1900, "month": 1, "date": 1, "hours": 13, "minutes": 40},
              {"year": 1900, "month": 1, "date": 1, "hours": 14, "minutes": 0},
              {"year": 1900, "month": 1, "date": 1, "hours": 14, "minutes": 20},
              {"year": 1900, "month": 1, "date": 1, "hours": 14, "minutes": 40},
              {"year": 1900, "month": 1, "date": 1, "hours": 15, "minutes": 0},
              {"year": 1900, "month": 1, "date": 1, "hours": 15, "minutes": 20},
              {"year": 1900, "month": 1, "date": 1, "hours": 15, "minutes": 40},
              {"year": 1900, "month": 1, "date": 1, "hours": 16, "minutes": 0},
              {"year": 1900, "month": 1, "date": 1, "hours": 16, "minutes": 20}
            ]
          }
        },
        "y": {
          "field": "temp",
          "type": "quantitative",
          "scale": {"domain": [42.2, 130], "zero": false, "nice": false},
          "axis": {"title": "Temperature [C]", "format": "d", "values": [50, 60, 70, 80, 90, 100, 110, 120, 130]}
        },
        "color": {
          "field": "sensor",
          "type": "nominal",
          "scale": {
            "domain": ["Plate Middle", "Fins Middle", "Plate Radius", "HE MetalBox", "Oil Bottom 2", "Oil Bottom 1", "Fins Top", "Salt Top", "HE Middle"],
            "range": ["#1f77b4", "#ff7f0e", "#2ca02c", "#d62728", "#9467bd", "#8c564b", "#e377c2", "#7f7f7f", "#bcbd22"]
          },
          "legend": {"title": null, "orient": "bottom-right", "offset": 8}
        }
      }
    },
    {
      "width": 1134,
      "height": 320,
      "data": {
        "format": {"parse": {"time": "date:'%H:%M:%S'"}},
        "values": [
          {"time": "09:17:15", "power": 0}, {"time": "09:17:20", "power": 774}, {"time": "09:17:40", "power": 707},
          {"time": "09:18:21", "power": 723}, {"time": "09:18:37", "power": 925}, {"time": "09:19:02", "power": 908},
          {"time": "09:19:19", "power": 1126}, {"time": "09:19:44", "power": 1009}, {"time": "09:20:00", "power": 1135},
          {"time": "09:20:25", "power": 992}, {"time": "09:20:58", "power": 1110}, {"time": "09:21:23", "power": 958},
          {"time": "09:21:47", "power": 1093}, {"time": "09:22:20", "power": 1143}, {"time": "09:22:45", "power": 992},
          {"time": "09:23:10", "power": 1110}, {"time": "09:23:43", "power": 866}, {"time": "09:24:08", "power": 1143},
          {"time": "09:24:49", "power": 1160}, {"time": "09:26:11", "power": 1177}, {"time": "09:27:09", "power": 1042},
          {"time": "09:27:34", "power": 1168}, {"time": "09:28:23", "power": 807}, {"time": "09:28:56", "power": 1160},
          {"time": "09:29:38", "power": 1185}, {"time": "09:31:00", "power": 1160}, {"time": "09:31:41", "power": 1059},
          {"time": "09:32:23", "power": 1143}, {"time": "09:34:26", "power": 1152}, {"time": "09:37:11", "power": 1168},
          {"time": "09:39:15", "power": 1190}, {"time": "09:39:57", "power": 1185}, {"time": "09:40:55", "power": 1160},
          {"time": "09:41:19", "power": 1042}, {"time": "09:42:01", "power": 723}, {"time": "09:42:42", "power": 606},
          {"time": "09:44:04", "power": 556}, {"time": "09:45:27", "power": 514}, {"time": "09:46:49", "power": 581},
          {"time": "09:48:53", "power": 556}, {"time": "09:50:57", "power": 531}, {"time": "09:53:42", "power": 480},
          {"time": "09:56:27", "power": 438}, {"time": "09:57:50", "power": 455}, {"time": "10:00:35", "power": 488},
          {"time": "10:03:20", "power": 488}, {"time": "10:06:05", "power": 497}, {"time": "10:07:27", "power": 539},
          {"time": "10:08:50", "power": 572}, {"time": "10:10:12", "power": 631}, {"time": "10:12:57", "power": 665},
          {"time": "10:14:20", "power": 740}, {"time": "10:15:01", "power": 975}, {"time": "10:15:26", "power": 774},
          {"time": "10:16:24", "power": 1311}, {"time": "10:17:05", "power": 707}, {"time": "10:18:27", "power": 875},
          {"time": "10:19:33", "power": 673}, {"time": "10:20:48", "power": 1378}, {"time": "10:21:13", "power": 413},
          {"time": "10:21:54", "power": 707}, {"time": "10:23:16", "power": 581}, {"time": "10:24:14", "power": 723},
          {"time": "10:25:20", "power": 572}, {"time": "10:27:24", "power": 606}, {"time": "10:29:11", "power": 656},
          {"time": "10:30:09", "power": 640}, {"time": "10:31:07", "power": 841}, {"time": "10:31:48", "power": 1387},
          {"time": "10:32:13", "power": 1294}, {"time": "10:32:38", "power": 1395}, {"time": "10:33:11", "power": 1042},
          {"time": "10:33:35", "power": 556}, {"time": "10:34:17", "power": 900}, {"time": "10:34:58", "power": 740},
          {"time": "10:36:20", "power": 875}, {"time": "10:37:02", "power": 1202}, {"time": "10:37:59", "power": 1378},
          {"time": "10:38:49", "power": 1009}, {"time": "10:39:47", "power": 1303}, {"time": "10:40:28", "power": 757},
          {"time": "10:42:32", "power": 656}, {"time": "10:44:35", "power": 598}, {"time": "10:46:39", "power": 614},
          {"time": "10:47:45", "power": 572}, {"time": "10:48:10", "power": 1160}, {"time": "10:48:35", "power": 1403},
          {"time": "10:48:59", "power": 992}, {"time": "10:49:41", "power": 707}, {"time": "10:50:47", "power": 572},
          {"time": "10:52:10", "power": 539}, {"time": "10:53:32", "power": 564}, {"time": "10:55:36", "power": 581},
          {"time": "10:56:42", "power": 606}, {"time": "10:57:40", "power": 1017}, {"time": "10:58:04", "power": 648},
          {"time": "10:59:43", "power": 690}, {"time": "11:00:00", "power": 1020}, {"time": "11:00:20", "power": 720},
          {"time": "11:01:22", "power": 807}, {"time": "11:01:50", "power": 1085}, {"time": "11:02:15", "power": 700},
          {"time": "11:03:01", "power": 673}, {"time": "11:03:50", "power": 1009}, {"time": "11:04:23", "power": 891},
          {"time": "11:04:47", "power": 707}, {"time": "11:05:29", "power": 698}, {"time": "11:06:35", "power": 673},
          {"time": "11:08:13", "power": 640}, {"time": "11:09:19", "power": 606}, {"time": "11:10:58", "power": 631},
          {"time": "11:12:20", "power": 631}, {"time": "11:13:25", "power": 673}, {"time": "11:13:58", "power": 1361},
          {"time": "11:14:40", "power": 707}, {"time": "11:15:04", "power": 1471}, {"time": "11:15:29", "power": 707},
          {"time": "11:15:53", "power": 530}, {"time": "11:16:26", "power": 707}, {"time": "11:17:32", "power": 757},
          {"time": "11:18:30", "power": 1429}, {"time": "11:19:11", "power": 875}, {"time": "11:19:52", "power": 807},
          {"time": "11:20:33", "power": 950}, {"time": "11:21:30", "power": 1387}, {"time": "11:22:11", "power": 925},
          {"time": "11:22:53", "power": 1429}, {"time": "11:23:17", "power": 975}, {"time": "11:23:58", "power": 807},
          {"time": "11:24:56", "power": 656}, {"time": "11:26:02", "power": 631}, {"time": "11:27:07", "power": 707},
          {"time": "11:27:49", "power": 1345}, {"time": "11:28:22", "power": 1143}, {"time": "11:29:11", "power": 1387},
          {"time": "11:29:52", "power": 925}, {"time": "11:30:25", "power": 766}, {"time": "11:30:49", "power": 1042},
          {"time": "11:31:14", "power": 1294}, {"time": "11:31:47", "power": 925}, {"time": "11:32:11", "power": 1294},
          {"time": "11:32:53", "power": 1269}, {"time": "11:34:15", "power": 1277}, {"time": "11:36:18", "power": 1261},
          {"time": "11:37:40", "power": 1277}, {"time": "11:39:44", "power": 1252}, {"time": "11:41:47", "power": 1236},
          {"time": "11:43:50", "power": 1227}, {"time": "11:46:35", "power": 1240}, {"time": "11:49:19", "power": 1244},
          {"time": "11:51:22", "power": 1261}, {"time": "11:53:25", "power": 1257}, {"time": "11:53:58", "power": 589},
          {"time": "11:54:23", "power": 0}, {"time": "11:54:40", "power": 589}, {"time": "11:55:04", "power": 1042},
          {"time": "11:55:53", "power": 1303}, {"time": "11:56:26", "power": 1051}, {"time": "11:57:16", "power": 1261},
          {"time": "11:58:54", "power": 1257}, {"time": "12:00:58", "power": 1247}, {"time": "12:03:01", "power": 1247},
          {"time": "12:04:23", "power": 1236}, {"time": "12:04:47", "power": 891}, {"time": "12:05:20", "power": 1076},
          {"time": "12:05:45", "power": 673}, {"time": "12:06:26", "power": 992}, {"time": "12:07:07", "power": 1076},
          {"time": "12:07:49", "power": 1264}, {"time": "12:09:11", "power": 1236}, {"time": "12:11:14", "power": 1247},
          {"time": "12:13:58", "power": 1261}, {"time": "12:15:21", "power": 1277}, {"time": "12:16:02", "power": 1143},
          {"time": "12:16:43", "power": 1009}, {"time": "12:17:24", "power": 1210}, {"time": "12:18:22", "power": 1286},
          {"time": "12:20:08", "power": 1281}, {"time": "12:22:11", "power": 1274}, {"time": "12:24:15", "power": 1281},
          {"time": "12:26:18", "power": 1281}, {"time": "12:27:24", "power": 1291}, {"time": "12:28:05", "power": 1269},
          {"time": "12:28:38", "power": 1042}, {"time": "12:29:19", "power": 807}, {"time": "12:30:00", "power": 1269},
          {"time": "12:31:47", "power": 1269}, {"time": "12:33:50", "power": 1264}, {"time": "12:35:13", "power": 1274},
          {"time": "12:35:53", "power": 1210}, {"time": "12:36:51", "power": 1126}, {"time": "12:37:40", "power": 958},
          {"time": "12:38:38", "power": 807}, {"time": "12:39:36", "power": 1042}, {"time": "12:40:00", "power": 791},
          {"time": "12:40:41", "power": 975}, {"time": "12:41:47", "power": 1126}, {"time": "12:42:44", "power": 1244},
          {"time": "12:43:25", "power": 1286}, {"time": "12:44:07", "power": 1143}, {"time": "12:44:48", "power": 1042},
          {"time": "12:45:29", "power": 1210}, {"time": "12:46:10", "power": 1025}, {"time": "12:46:51", "power": 1193},
          {"time": "12:47:32", "power": 1042}, {"time": "12:48:13", "power": 1110}, {"time": "12:48:54", "power": 992},
          {"time": "12:50:16", "power": 1076}, {"time": "12:51:38", "power": 824}, {"time": "12:52:17", "power": 807},
          {"time": "12:52:41", "power": 875}, {"time": "12:53:23", "power": 958}, {"time": "12:53:48", "power": 908},
          {"time": "12:54:20", "power": 1143}, {"time": "12:54:46", "power": 875}, {"time": "12:55:27", "power": 1009},
          {"time": "12:56:08", "power": 875}, {"time": "12:56:50", "power": 774}, {"time": "12:57:31", "power": 732},
          {"time": "12:58:13", "power": 841}, {"time": "12:58:54", "power": 1025}, {"time": "12:59:35", "power": 1042},
          {"time": "13:00:17", "power": 908}, {"time": "13:00:58", "power": 841}, {"time": "13:01:56", "power": 824},
          {"time": "13:03:02", "power": 908}, {"time": "13:03:43", "power": 975}, {"time": "13:04:25", "power": 891},
          {"time": "13:05:06", "power": 875}, {"time": "13:05:48", "power": 824}, {"time": "13:06:29", "power": 1009},
          {"time": "13:07:27", "power": 908}, {"time": "13:08:08", "power": 1009}, {"time": "13:08:58", "power": 908},
          {"time": "13:09:56", "power": 958}, {"time": "13:10:37", "power": 1025}, {"time": "13:11:19", "power": 975},
          {"time": "13:12:00", "power": 992}, {"time": "13:12:41", "power": 1084}, {"time": "13:13:23", "power": 958},
          {"time": "13:14:04", "power": 908}, {"time": "13:14:46", "power": 858}, {"time": "13:16:08", "power": 841},
          {"time": "13:17:31", "power": 841}, {"time": "13:18:37", "power": 858}, {"time": "13:19:35", "power": 975},
          {"time": "13:20:17", "power": 908}, {"time": "13:20:58", "power": 958}, {"time": "13:21:56", "power": 992},
          {"time": "13:22:46", "power": 1059}, {"time": "13:23:27", "power": 1025}, {"time": "13:23:52", "power": 1143},
          {"time": "13:24:17", "power": 1345}, {"time": "13:24:41", "power": 1160}, {"time": "13:25:14", "power": 858},
          {"time": "13:25:47", "power": 958}, {"time": "13:26:29", "power": 875}, {"time": "13:27:27", "power": 925},
          {"time": "13:28:17", "power": 849}, {"time": "13:28:50", "power": 916}, {"time": "13:29:31", "power": 883},
          {"time": "13:30:37", "power": 858}, {"time": "13:31:35", "power": 875}, {"time": "13:32:25", "power": 908},
          {"time": "13:33:23", "power": 941}, {"time": "13:34:21", "power": 1025}, {"time": "13:35:27", "power": 925},
          {"time": "13:36:50", "power": 941}, {"time": "13:37:56", "power": 1009}, {"time": "13:38:29", "power": 1143},
          {"time": "13:39:02", "power": 992}, {"time": "13:39:35", "power": 875}, {"time": "13:40:17", "power": 824},
          {"time": "13:40:58", "power": 824}, {"time": "13:42:04", "power": 849}, {"time": "13:43:02", "power": 774},
          {"time": "13:43:43", "power": 732}, {"time": "13:44:50", "power": 841}, {"time": "13:45:47", "power": 791},
          {"time": "13:47:10", "power": 816}, {"time": "13:48:08", "power": 875}, {"time": "13:48:50", "power": 908},
          {"time": "13:49:31", "power": 841}, {"time": "13:50:21", "power": 875}, {"time": "13:51:19", "power": 824},
          {"time": "13:52:00", "power": 975}, {"time": "13:52:41", "power": 807}, {"time": "13:53:23", "power": 740},
          {"time": "13:54:46", "power": 757}, {"time": "13:56:08", "power": 757}, {"time": "13:57:31", "power": 749},
          {"time": "13:58:54", "power": 782}, {"time": "14:00:17", "power": 807}, {"time": "14:01:23", "power": 841},
          {"time": "14:02:21", "power": 958}, {"time": "14:02:46", "power": 1118}, {"time": "14:03:19", "power": 1025},
          {"time": "14:04:08", "power": 975}, {"time": "14:05:06", "power": 1025}, {"time": "14:05:48", "power": 908},
          {"time": "14:06:54", "power": 858}, {"time": "14:07:52", "power": 774}, {"time": "14:09:14", "power": 740},
          {"time": "14:11:19", "power": 757}, {"time": "14:12:41", "power": 723}, {"time": "14:14:04", "power": 682},
          {"time": "14:15:27", "power": 648}, {"time": "14:16:50", "power": 707}, {"time": "14:18:13", "power": 740},
          {"time": "14:19:19", "power": 841}, {"time": "14:20:17", "power": 908}, {"time": "14:20:58", "power": 807},
          {"time": "14:22:04", "power": 1042}, {"time": "14:22:37", "power": 1110}, {"time": "14:23:27", "power": 992},
          {"time": "14:24:00", "power": 1076}, {"time": "14:24:41", "power": 1143}, {"time": "14:25:06", "power": 958},
          {"time": "14:25:48", "power": 1152}, {"time": "14:26:29", "power": 1093}, {"time": "14:27:19", "power": 925},
          {"time": "14:28:08", "power": 1110}, {"time": "14:28:50", "power": 908}, {"time": "14:29:39", "power": 1084},
          {"time": "14:30:21", "power": 673}, {"time": "14:30:54", "power": 1042}, {"time": "14:31:35", "power": 992},
          {"time": "14:32:17", "power": 900}, {"time": "14:33:06", "power": 1076}, {"time": "14:33:39", "power": 1068},
          {"time": "14:34:46", "power": 1042}, {"time": "14:35:52", "power": 1042}, {"time": "14:37:15", "power": 1042},
          {"time": "14:38:37", "power": 1046}, {"time": "14:40:41", "power": 1054}, {"time": "14:42:04", "power": 1042},
          {"time": "14:43:26", "power": 1025}, {"time": "14:44:49", "power": 992}, {"time": "14:46:12", "power": 992},
          {"time": "14:47:35", "power": 975}, {"time": "14:49:39", "power": 958}, {"time": "14:51:01", "power": 983},
          {"time": "14:52:24", "power": 992}, {"time": "14:53:46", "power": 975}, {"time": "14:55:09", "power": 950},
          {"time": "14:56:32", "power": 934}, {"time": "14:57:55", "power": 912}, {"time": "14:59:17", "power": 900},
          {"time": "15:00:40", "power": 891}, {"time": "15:02:02", "power": 883}, {"time": "15:03:25", "power": 883},
          {"time": "15:04:06", "power": 866}, {"time": "15:04:48", "power": 799}, {"time": "15:05:29", "power": 841},
          {"time": "15:06:52", "power": 833}, {"time": "15:08:14", "power": 824}, {"time": "15:09:37", "power": 807},
          {"time": "15:10:02", "power": 740}, {"time": "15:11:00", "power": 782}, {"time": "15:12:22", "power": 757},
          {"time": "15:13:45", "power": 723}, {"time": "15:15:07", "power": 682}, {"time": "15:16:30", "power": 640},
          {"time": "15:17:53", "power": 614}, {"time": "15:19:15", "power": 589}, {"time": "15:20:38", "power": 556},
          {"time": "15:22:01", "power": 514}, {"time": "15:23:23", "power": 488}, {"time": "15:24:46", "power": 472},
          {"time": "15:25:30", "power": 430}, {"time": "15:26:50", "power": 458}, {"time": "15:27:30", "power": 420},
          {"time": "15:28:54", "power": 447}, {"time": "15:29:30", "power": 400}, {"time": "15:30:17", "power": 438},
          {"time": "15:31:00", "power": 415}, {"time": "15:32:21", "power": 371}, {"time": "15:33:00", "power": 440},
          {"time": "15:33:43", "power": 455}, {"time": "15:34:30", "power": 410}, {"time": "15:35:30", "power": 465},
          {"time": "15:36:28", "power": 472}, {"time": "15:37:20", "power": 420}, {"time": "15:38:20", "power": 470},
          {"time": "15:39:14", "power": 475}, {"time": "15:40:10", "power": 425}, {"time": "15:41:00", "power": 470},
          {"time": "15:41:59", "power": 463}, {"time": "15:43:00", "power": 418}, {"time": "15:44:00", "power": 460},
          {"time": "15:44:44", "power": 447}, {"time": "15:45:40", "power": 395}, {"time": "15:46:40", "power": 445},
          {"time": "15:47:29", "power": 430}, {"time": "15:48:30", "power": 350}, {"time": "15:49:20", "power": 428},
          {"time": "15:50:15", "power": 413}, {"time": "15:51:10", "power": 330}, {"time": "15:51:50", "power": 410},
          {"time": "15:52:19", "power": 312}, {"time": "15:53:00", "power": 404}, {"time": "15:54:00", "power": 320},
          {"time": "15:54:50", "power": 400}, {"time": "15:55:45", "power": 391}, {"time": "15:56:40", "power": 300},
          {"time": "15:57:30", "power": 395}, {"time": "15:58:31", "power": 384}, {"time": "15:59:30", "power": 290},
          {"time": "16:00:20", "power": 390}, {"time": "16:01:16", "power": 379}, {"time": "16:02:10", "power": 295},
          {"time": "16:03:10", "power": 385}, {"time": "16:04:01", "power": 374}, {"time": "16:05:00", "power": 288},
          {"time": "16:05:50", "power": 378}, {"time": "16:06:47", "power": 371}, {"time": "16:07:40", "power": 292},
          {"time": "16:08:40", "power": 375}, {"time": "16:09:32", "power": 366}, {"time": "16:10:20", "power": 295},
          {"time": "16:10:55", "power": 360}, {"time": "16:11:19", "power": 195}, {"time": "16:11:44", "power": 351},
          {"time": "16:12:40", "power": 300}, {"time": "16:13:40", "power": 358}, {"time": "16:15:02", "power": 351},
          {"time": "16:16:00", "power": 290}, {"time": "16:16:50", "power": 355}, {"time": "16:17:48", "power": 346},
          {"time": "16:18:40", "power": 295}, {"time": "16:19:40", "power": 350}, {"time": "16:20:33", "power": 341},
          {"time": "16:21:30", "power": 292}, {"time": "16:22:37", "power": 346}, {"time": "16:23:35", "power": 346},
          {"time": "16:23:59", "power": 287}, {"time": "16:24:16", "power": 0}
        ]
      },
      "mark": {"type": "line", "strokeWidth": 2.2},
      "encoding": {
        "x": {
          "field": "time",
          "type": "temporal",
          "scale": {"domain": [
            {"year": 1900, "month": 1, "date": 1, "hours": 8, "minutes": 56, "seconds": 11},
            {"year": 1900, "month": 1, "date": 1, "hours": 16, "minutes": 44, "seconds": 22}
          ]},
          "axis": {
            "title": "Time [h:m]",
            "titlePadding": 0,
            "format": "%H:%M",
            "labelAngle": -30,
            "labelAlign": "right",
            "labelBaseline": "top",
            "labelOffset": -8,
            "values": [
              {"year": 1900, "month": 1, "date": 1, "hours": 9, "minutes": 20},
              {"year": 1900, "month": 1, "date": 1, "hours": 9, "minutes": 40},
              {"year": 1900, "month": 1, "date": 1, "hours": 10, "minutes": 0},
              {"year": 1900, "month": 1, "date": 1, "hours": 10, "minutes": 20},
              {"year": 1900, "month": 1, "date": 1, "hours": 10, "minutes": 40},
              {"year": 1900, "month": 1, "date": 1, "hours": 11, "minutes": 0},
              {"year": 1900, "month": 1, "date": 1, "hours": 11, "minutes": 20},
              {"year": 1900, "month": 1, "date": 1, "hours": 11, "minutes": 40},
              {"year": 1900, "month": 1, "date": 1, "hours": 12, "minutes": 0},
              {"year": 1900, "month": 1, "date": 1, "hours": 12, "minutes": 20},
              {"year": 1900, "month": 1, "date": 1, "hours": 12, "minutes": 40},
              {"year": 1900, "month": 1, "date": 1, "hours": 13, "minutes": 0},
              {"year": 1900, "month": 1, "date": 1, "hours": 13, "minutes": 20},
              {"year": 1900, "month": 1, "date": 1, "hours": 13, "minutes": 40},
              {"year": 1900, "month": 1, "date": 1, "hours": 14, "minutes": 0},
              {"year": 1900, "month": 1, "date": 1, "hours": 14, "minutes": 20},
              {"year": 1900, "month": 1, "date": 1, "hours": 14, "minutes": 40},
              {"year": 1900, "month": 1, "date": 1, "hours": 15, "minutes": 0},
              {"year": 1900, "month": 1, "date": 1, "hours": 15, "minutes": 20},
              {"year": 1900, "month": 1, "date": 1, "hours": 15, "minutes": 40},
              {"year": 1900, "month": 1, "date": 1, "hours": 16, "minutes": 0},
              {"year": 1900, "month": 1, "date": 1, "hours": 16, "minutes": 20}
            ]
          }
        },
        "y": {
          "field": "power",
          "type": "quantitative",
          "scale": {"domain": [-73, 1538.5], "zero": false, "nice": false},
          "axis": {"title": "Power [W]", "format": "d", "values": [0, 200, 400, 600, 800, 1000, 1200, 1400]}
        },
        "color": {
          "datum": "Power",
          "type": "nominal",
          "scale": {"range": ["#1f77b4"]},
          "legend": {"title": null, "orient": "top-right", "offset": 8}
        }
      }
    }
  ]
}
